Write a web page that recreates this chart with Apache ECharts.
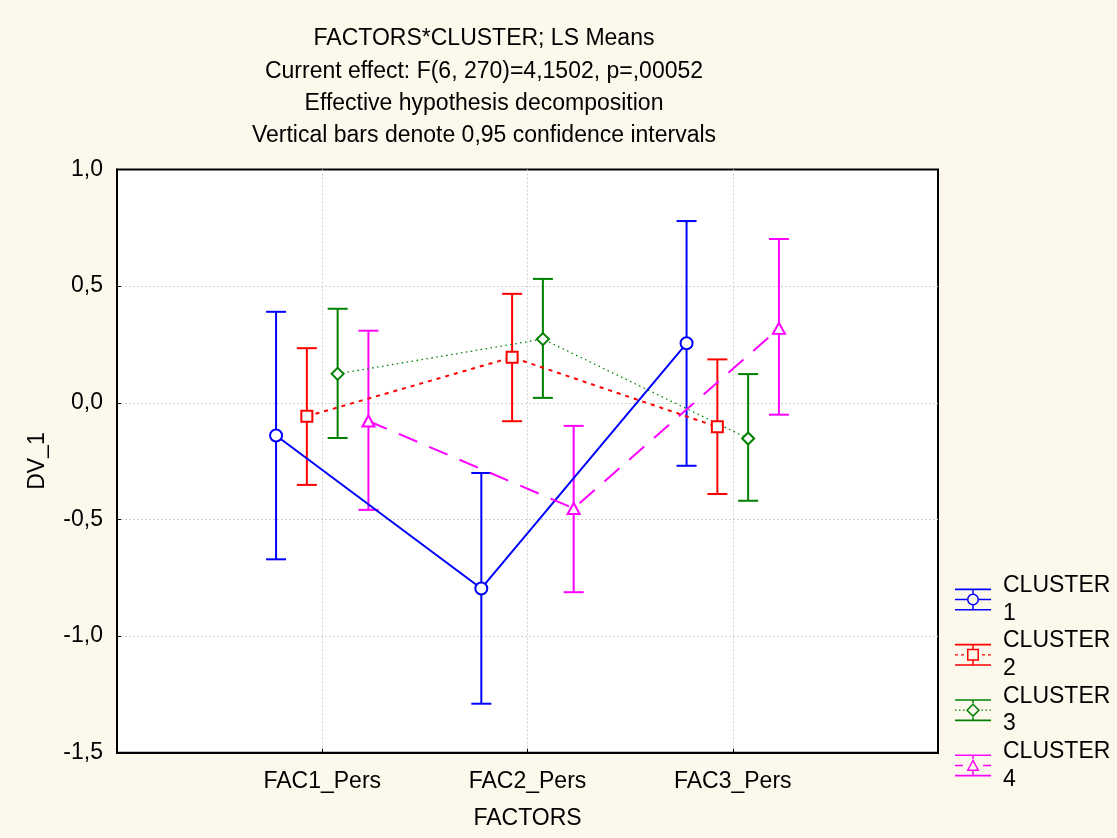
<!DOCTYPE html>
<html>
<head>
<meta charset="utf-8">
<script src="https://cdn.jsdelivr.net/npm/echarts@6/dist/echarts.min.js"></script>
<style>
html,body{margin:0;padding:0;background:#fdf8ec;}
#chart{width:1117px;height:838px;}
</style>
</head>
<body>
<div id="chart"></div>
<script>
// ---- data ----
const categories = ['FAC1_Pers', 'FAC2_Pers', 'FAC3_Pers'];
const clusterNames = ['CLUSTER 1', 'CLUSTER 2', 'CLUSTER 3', 'CLUSTER 4'];
const titleLines = [
  'FACTORS*CLUSTER; LS Means',
  'Current effect: F(6, 270)=4,1502, p=,00052',
  'Effective hypothesis decomposition',
  'Vertical bars denote 0,95 confidence intervals'
];
const yTickValues = [-1.5, -1.0, -0.5, 0.0, 0.5, 1.0];

const means1 = [-0.140, -0.796, 0.255];
const lower1 = [-0.671, -1.290, -0.270];
const upper1 = [0.390, -0.301, 0.779];

const means2 = [-0.058, 0.195, -0.103];
const lower2 = [-0.352, -0.079, -0.391];
const upper2 = [0.234, 0.467, 0.186];

const means3 = [0.124, 0.273, -0.153];
const lower3 = [-0.151, 0.021, -0.420];
const upper3 = [0.403, 0.531, 0.123];

const means4 = [-0.078, -0.453, 0.319];
const lower4 = [-0.459, -0.812, -0.051];
const upper4 = [0.309, -0.099, 0.702];

// ---- styling ----
const FONT = '"Liberation Sans", Arial, sans-serif';
const colors = ['#0000ff', '#ff0000', '#008000', '#ff00ff'];
const groupOffsets = [-0.225, -0.075, 0.075, 0.225];
const symbols = ['emptyCircle', 'emptyRect', 'emptyDiamond', 'emptyTriangle'];
const symbolSizes = [12, 11, 12, [12, 11]];
const lineStyles = [
  {width: 2, type: 'solid'},
  {width: 2, type: [4, 5]},
  {width: 1.3, type: [1.5, 3.5]},
  {width: 2, type: [20, 13]}
];
const allMeans = [means1, means2, means3, means4];
const allLower = [lower1, lower2, lower3, lower4];
const allUpper = [upper1, upper2, upper3, upper4];

// legend icon paths
function rectP(x0, y0, x1, y1) { return `M${x0},${y0}L${x1},${y0}L${x1},${y1}L${x0},${y1}Z`; }
function rectRev(x0, y0, x1, y1) { return `M${x0},${y0}L${x0},${y1}L${x1},${y1}L${x1},${y0}Z`; }
function legendIcon(k) {
  let p = '';
  p += rectP(0, 0, 36, 1.6) + rectP(0, 20.4, 36, 22);
  const hSegs = [
    [[0, 12], [24, 36]],
    [[0, 3], [6, 9], [27, 30], [33, 36]],
    [[0, 1.5], [4, 5.5], [8, 9.5], [26.5, 28], [30.5, 32], [34.5, 36]],
    [[0, 8], [28, 36]]
  ][k];
  hSegs.forEach(s => { p += rectP(s[0], 10.3, s[1], 11.7); });
  let top, bot;
  if (k === 0) {
    p += 'M24,11A6,6 0 1,1 12,11A6,6 0 1,1 24,11Z';
    p += 'M22.5,11A4.5,4.5 0 1,0 13.5,11A4.5,4.5 0 1,0 22.5,11Z';
    top = 5; bot = 17;
  } else if (k === 1) {
    p += rectP(12, 5, 24, 17) + rectRev(13.5, 6.5, 22.5, 15.5);
    top = 5; bot = 17;
  } else if (k === 2) {
    p += 'M18,4L25,11L18,18L11,11Z' + 'M18,6.1L13.1,11L18,15.9L22.9,11Z';
    top = 4; bot = 18;
  } else {
    p += 'M18,4.5L24.5,16.5L11.5,16.5Z' + 'M18,7.6L13.9,15.1L22.1,15.1Z';
    top = 4.5; bot = 16.5;
  }
  p += rectP(17.25, 0, 18.75, top) + rectP(17.25, bot, 18.75, 22);
  p += 'M43,11L43,11Z';
  return 'path://' + p;
}

const series = [];
clusterNames.forEach((name, k) => {
  const barData = categories.map((c, i) => [i + 1 + groupOffsets[k], allLower[k][i], allUpper[k][i]]);
  const lineData = categories.map((c, i) => [i + 1 + groupOffsets[k], allMeans[k][i]]);
  series.push({
    name: name,
    type: 'custom',
    z: 2,
    data: barData,
    encode: {x: 0, y: [1, 2]},
    renderItem: (params, api) => {
      const x = api.value(0);
      const pLo = api.coord([x, api.value(1)]);
      const pHi = api.coord([x, api.value(2)]);
      const hw = 10;
      const style = {stroke: colors[k], lineWidth: 2, fill: null};
      return {
        type: 'group',
        children: [
          {type: 'line', shape: {x1: pLo[0], y1: pLo[1], x2: pHi[0], y2: pHi[1]}, style},
          {type: 'line', shape: {x1: pLo[0] - hw, y1: pLo[1], x2: pLo[0] + hw, y2: pLo[1]}, style},
          {type: 'line', shape: {x1: pHi[0] - hw, y1: pHi[1], x2: pHi[0] + hw, y2: pHi[1]}, style}
        ]
      };
    }
  });
  series.push({
    name: name,
    type: 'line',
    z: 3,
    data: lineData,
    symbol: symbols[k],
    symbolSize: symbolSizes[k],
    showSymbol: true,
    lineStyle: Object.assign({color: colors[k]}, lineStyles[k]),
    itemStyle: {color: colors[k], borderWidth: 1.6},
    emphasis: {disabled: true},
    animation: false
  });
});

const chart = echarts.init(document.getElementById('chart'), null, {renderer: 'canvas'});
chart.setOption({
  backgroundColor: '#fdf8ec',
  animation: false,
  title: {
    text: titleLines.join('\n'),
    left: 484,
    top: 23,
    padding: 0,
    textAlign: 'center',
    textStyle: {fontFamily: FONT, fontSize: 23, fontWeight: 'normal', color: '#000', lineHeight: 32.3}
  },
  legend: {
    orient: 'vertical',
    left: 955,
    top: 558,
    padding: 0,
    itemGap: -27.8,
    itemWidth: 43,
    itemHeight: 22,
    selectedMode: false,
    data: clusterNames.map((n, k) => ({
      name: n,
      icon: legendIcon(k),
      itemStyle: {color: colors[k], borderWidth: 0}
    })),
    formatter: n => n.replace(' ', '\n'),
    textStyle: {fontFamily: FONT, fontSize: 23, color: '#000', lineHeight: 27.7, padding: [27.7, 0, 0, 0]}
  },
  grid: {
    left: 117, right: 179, top: 169.5, bottom: 85.3,
    show: true, backgroundColor: '#ffffff', borderColor: '#000', borderWidth: 2
  },
  xAxis: {
    type: 'value', min: 0, max: 4, interval: 1,
    name: 'FACTORS', nameLocation: 'middle', nameGap: 54,
    nameTextStyle: {fontFamily: FONT, fontSize: 23, color: '#000'},
    axisLine: {show: true, onZero: false, lineStyle: {color: '#000', width: 2}},
    axisTick: {show: true, inside: true, length: 4, lineStyle: {color: '#000'}},
    axisLabel: {
      fontFamily: FONT, fontSize: 23, color: '#000', margin: 17,
      formatter: v => (v >= 1 && v <= categories.length && Number.isInteger(v)) ? categories[v - 1] : ''
    },
    splitLine: {show: true, showMinLine: false, showMaxLine: false, lineStyle: {color: '#cfcfcf', type: [2, 2], width: 1}}
  },
  yAxis: {
    type: 'value', min: -1.5, max: 1.0, interval: 0.5,
    name: 'DV_1', nameLocation: 'middle', nameGap: 68,
    nameTextStyle: {fontFamily: FONT, fontSize: 23, color: '#000'},
    axisLine: {show: true, onZero: false, lineStyle: {color: '#000', width: 2}},
    axisTick: {show: true, inside: true, length: 4, lineStyle: {color: '#000'}},
    axisLabel: {
      fontFamily: FONT, fontSize: 23, color: '#000', margin: 14,
      formatter: v => {
        const t = yTickValues.find(y => Math.abs(y - v) < 1e-9);
        return t === undefined ? '' : t.toFixed(1).replace('.', ',');
      }
    },
    splitLine: {show: true, showMinLine: false, showMaxLine: false, lineStyle: {color: '#cfcfcf', type: [2, 2], width: 1}}
  },
  series: series
});
</script>
</body>
</html>
